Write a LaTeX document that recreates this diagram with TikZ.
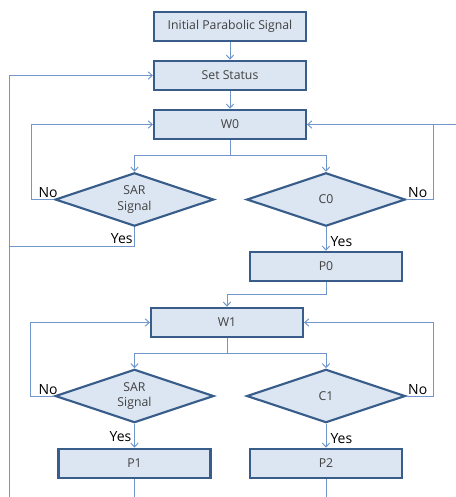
\documentclass[tikz,border=0pt]{standalone}
\usepackage{fontspec}
\setmainfont{Open Sans}
\usepackage{xcolor}
\usetikzlibrary{positioning,shapes.geometric,arrows.meta}
\definecolor{boxfill}{HTML}{DCE6F2}
\definecolor{boxline}{HTML}{385D8A}
\definecolor{wire}{HTML}{7196CB}
\definecolor{boxtext}{HTML}{404040}

\begin{document}
\begin{tikzpicture}[x=0.75pt, y=-0.75pt,
  stage/.style={draw=boxline, fill=boxfill, line width=1.6pt, shape=rectangle, minimum width=114pt, minimum height=22pt, text=boxtext, font=\fontsize{9.2}{11}\selectfont},
  test/.style={draw=boxline, fill=boxfill, line width=1.6pt, shape=diamond, aspect=3, inner sep=0pt, minimum width=119pt, minimum height=40pt, text=boxtext, align=center, font=\fontsize{9.2}{11.5}\selectfont},
  link/.style={draw=wire, line width=0.75pt},
  answer/.style={font=\fontsize{10.5}{12}\selectfont, inner sep=1pt},
  >={Straight Barb[length=3pt,width=5.5pt]}]
\useasboundingbox (0,0) rectangle (456,497);
% first stage
\node[stage] (init) at (230,26.5) {Initial Parabolic Signal};
\node[stage, below of=init, node distance=36.75pt] (set) {Set Status};
\node[stage, below of=set, node distance=36.75pt] (w0) {W0};
\node[test] (sar0) at (134.5,199.5) {SAR\\Signal};
\node[test] (c0) at (326,199.5) {C0};
\node[stage, below of=c0, node distance=50.25pt] (p0) {P0};
% second stage
\node[stage] (w1) at (227,322.5) {W1};
\node[test] (sar1) at (134.5,396) {SAR\\Signal};
\node[test] (c1) at (326,396) {C1};
\node[stage, below of=sar1, node distance=50.6pt] (p1) {P1};
\node[stage, below of=c1, node distance=50.6pt] (p2) {P2};
\coordinate (fork0) at (230,155.5);
\coordinate (fork1) at (227,353);
\coordinate (feed) at (456,124.5);
\coordinate (back) at (9,497);

\draw[link, ->] (init) -- (set);
\draw[link, ->] (set) -- (w0);
\draw[link] (w0) -- (fork0);
\draw[link, ->] (fork0) -| (sar0);
\draw[link, ->] (fork0) -| (c0);
\draw[link, ->] (sar0.west) node[answer, anchor=south east, xshift=4pt] {No} -- ++(-22.5,0) |- (w0.west);
\draw[link, ->] (c0.east) node[answer, anchor=south west] {No} -- ++(27.5,0) |- (w0.east);
\draw[link] (feed) -- (w0.east);
\draw[link, ->] (back) |- (set.west);
\draw[link] (sar0.south) node[answer, anchor=north east, yshift=-3pt] {Yes} -- ++(0,19) -| (back);
\draw[link, ->] (c0.south) -- node[answer, anchor=west, pos=0.6, xshift=2pt] {Yes} (p0.north);
\draw[link, ->] (p0.south) -- ++(0,12) -| (w1);

\draw[link] (w1) -- (fork1);
\draw[link, ->] (fork1) -| (sar1);
\draw[link, ->] (fork1) -| (c1);
\draw[link, ->] (sar1.west) node[answer, anchor=south east, xshift=4pt] {No} -- ++(-23.5,0) |- (w1.west);
\draw[link, ->] (c1.east) node[answer, anchor=south west] {No} -- ++(27,0) |- (w1.east);
\draw[link, ->] (sar1.south) -- node[answer, anchor=east, pos=0.55, xshift=-1pt] {Yes} (p1.north);
\draw[link, ->] (c1.south) -- node[answer, anchor=west, pos=0.6, xshift=2pt] {Yes} (p2.north);
\draw[link] (p1.south) -- (p1.south |- back);
\draw[link] (p2.south) -- (p2.south |- back);
\end{tikzpicture}
\end{document}
